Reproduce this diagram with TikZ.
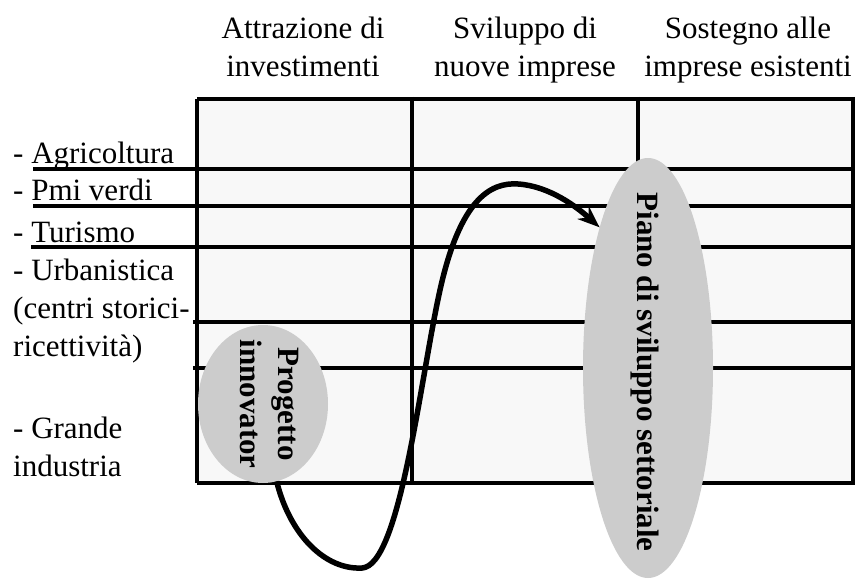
\documentclass[tikz,border=0pt]{standalone}
\usepackage{fontspec}
\setmainfont{Liberation Serif}
\usetikzlibrary{shapes.geometric,arrows.meta}
\definecolor{cellfill}{HTML}{F8F8F8}
\definecolor{ovalfill}{HTML}{CCCCCC}
\newcommand{\bigtxt}{\fontsize{31}{38}\selectfont}
\tikzset{
  rule/.style={line width=3.2pt},
  thickrule/.style={line width=4.5pt},
  head/.style={font=\bigtxt, inner sep=0pt, anchor=base},
  rowlabel/.style={font=\bigtxt, inner sep=0pt, anchor=base west},
  oval/.style={ellipse, fill=ovalfill, inner sep=0pt},
  ovaltext/.style={font=\bigtxt\bfseries, rotate=-90, align=center, inner sep=0pt},
  flow/.style={line width=5.5pt, -{Stealth[length=22pt,width=17pt]}},
}

\begin{document}
\begin{tikzpicture}[x=1pt, y=-1pt]
    \useasboundingbox (0,0) rectangle (856,583);
    % column headers
    \node[head] (hinv) at (303,39) {\begin{tabular}[t]{@{}c@{}}Attrazione di\\investimenti\end{tabular}};
    \node[head] (hnew) at (525,39) {\begin{tabular}[t]{@{}c@{}}Sviluppo di\\nuove imprese\end{tabular}};
    \node[head] (hold) at (748,39) {\begin{tabular}[t]{@{}c@{}}Sostegno alle\\imprese esistenti\end{tabular}};
    % sector labels
    \node[rowlabel] (ragr) at (13,163) {- Agricoltura};
    \node[rowlabel] (rpmi) at (13,200) {- Pmi verdi};
    \node[rowlabel] (rtur) at (13,242) {- Turismo};
    \node[rowlabel] (rurb) at (13,280) {\begin{tabular}[t]{@{}l@{}}- Urbanistica\\(centri storici-\\ricettività)\end{tabular}};
    \node[rowlabel] (rind) at (13,438) {\begin{tabular}[t]{@{}l@{}}- Grande\\industria\end{tabular}};
    % grid
    \fill[cellfill] (197,99) rectangle (853,483);
    \draw[rule] (197,99) -- (853,99);
    \draw[rule] (33,169) -- (853,169);
    \draw[rule] (33,206) -- (853,206);
    \draw[rule] (31,247) -- (853,247);
    \draw[rule] (193,322) -- (853,322);
    \draw[rule] (193,368) -- (853,368);
    \draw[rule] (197,483) -- (853,483);
    \draw[rule] (197,99) -- (197,483);
    \draw[rule] (412,97) -- (412,483);
    \draw[thickrule] (638,97) -- (638,483);
    \draw[thickrule] (853,97) -- (853,485);
    % ovals
    \node[oval, minimum width=130, minimum height=158] (prog) at (263,404) {};
    \node[ovaltext] (progtxt) at (269,404) {Progetto\\innovator};
    \node[oval, minimum width=130, minimum height=420] (piano) at (648,368) {};
    \node[ovaltext] (pianotxt) at (645,372) {Piano di sviluppo settoriale};
    \draw[flow] (prog.-80) .. controls (290,535) and (325,570) .. (362,568)
      .. controls (400,566) and (420,380) .. (440,290)
      .. controls (460,200) and (490,182) .. (518,184)
      .. controls (550,186) and (578,208) .. (piano.109);
  \end{tikzpicture}
\end{document}
